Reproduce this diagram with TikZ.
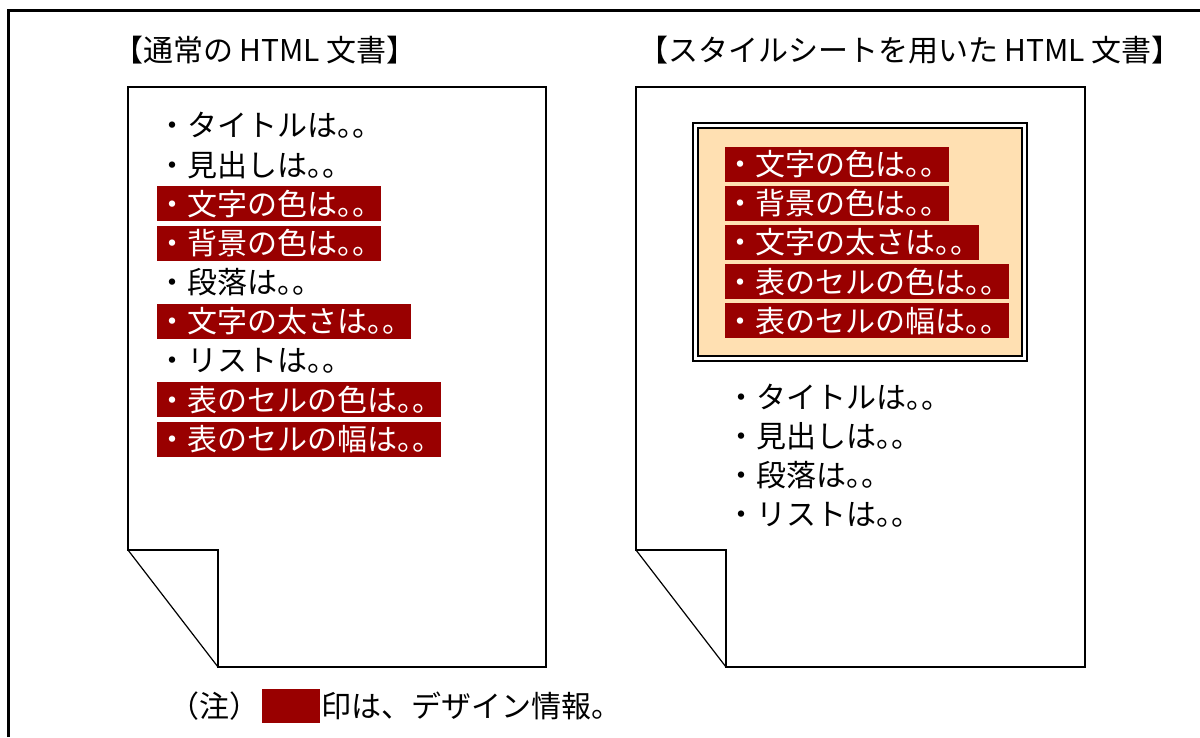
\documentclass[tikz,border=0pt]{standalone}
\usepackage{fontspec}
\setmainfont{Noto Sans CJK JP}
\newfontfamily\kuten{Noto Sans CJK JP}[CharacterWidth=AlternateProportional]
\usetikzlibrary{positioning}
\definecolor{dred}{RGB}{153, 0, 0}
\definecolor{peach}{RGB}{255, 224, 178}
\newcommand\jpfont{\fontsize{30}{36}\selectfont}

\begin{document}
\begin{tikzpicture}[x=1pt, y=-1pt,
  heading/.style={font=\jpfont, inner sep=0pt},
  entry/.style={font=\jpfont, inner sep=0pt, minimum height=35pt, align=left},
  design/.style={entry, fill=dred, text=white, text width=#1},
  page/.style={line width=2pt, line join=miter},
  foldline/.style={line width=1.2pt},
  panel/.style={draw, double, double distance=2.5pt, line width=1.8pt, fill=peach},
  frame/.style={line width=2.5pt}
]
  \useasboundingbox (0,0) rectangle (1200,737);
  \draw[frame] (8.5,737) -- (8.5,10.5) -- (1200,10.5);

  % pages with folded corner
  \foreach \xa/\xb in {128/546, 636/1085} {
    \draw[page] (\xa,550) -- (\xa,87) -- (\xb,87) -- (\xb,667)
      -- (\xa+90,667) -- (\xa+90,550) -- cycle;
    \draw[foldline] (\xa,550) -- (\xa+90,667);
  }

  \node[heading] (ttl) at (265,50) {【通常の HTML 文書】};
  \node[heading] (ttr) at (910,50) {【スタイルシートを用いた HTML 文書】};

  % left document
  \node[entry, anchor=west] (l1) at (157,125.5) {・タイトルは{\kuten 。。}};
  \node[entry, below right=3.8pt and 0pt of l1.south west] (l2) {・見出しは{\kuten 。。}};
  \node[design=224pt, below right=3.8pt and 0pt of l2.south west] (l3) {・文字の色は{\kuten 。。}};
  \node[design=224pt, below right=3.8pt and 0pt of l3.south west] (l4) {・背景の色は{\kuten 。。}};
  \node[entry, below right=3.8pt and 0pt of l4.south west] (l5) {・段落は{\kuten 。。}};
  \node[design=254pt, below right=3.8pt and 0pt of l5.south west] (l6) {・文字の太さは{\kuten 。。}};
  \node[entry, below right=3.8pt and 0pt of l6.south west] (l7) {・リストは{\kuten 。。}};
  \node[design=284pt, below right=3.8pt and 0pt of l7.south west] (l8) {・表のセルの色は{\kuten 。。}};
  \node[design=284pt, below right=3.8pt and 0pt of l8.south west] (l9) {・表のセルの幅は{\kuten 。。}};

  % right document
  \node[panel, minimum width=329pt, minimum height=233pt] (css) at (860,242) {};
  \node[design=224pt, anchor=west] (r1) at (725,164) {・文字の色は{\kuten 。。}};
  \node[design=224pt, below right=3.8pt and 0pt of r1.south west] (r2) {・背景の色は{\kuten 。。}};
  \node[design=254pt, below right=3.8pt and 0pt of r2.south west] (r3) {・文字の太さは{\kuten 。。}};
  \node[design=284pt, below right=3.8pt and 0pt of r3.south west] (r4) {・表のセルの色は{\kuten 。。}};
  \node[design=284pt, below right=3.8pt and 0pt of r4.south west] (r5) {・表のセルの幅は{\kuten 。。}};

  \node[entry, anchor=west] (r6) at (726,397) {・タイトルは{\kuten 。。}};
  \node[entry, below right=3.8pt and 0pt of r6.south west] (r7) {・見出しは{\kuten 。。}};
  \node[entry, below right=3.8pt and 0pt of r7.south west] (r8) {・段落は{\kuten 。。}};
  \node[entry, below right=3.8pt and 0pt of r8.south west] (r9) {・リストは{\kuten 。。}};

  % note
  \node[fill=dred, inner sep=0pt, minimum width=58pt, minimum height=34pt] (mark) at (291,706) {};
  \node[entry, left=2pt of mark] (note) {（注）};
  \node[entry, right=1pt of mark] (info) {印は、デザイン情報。};
\end{tikzpicture}
\end{document}
